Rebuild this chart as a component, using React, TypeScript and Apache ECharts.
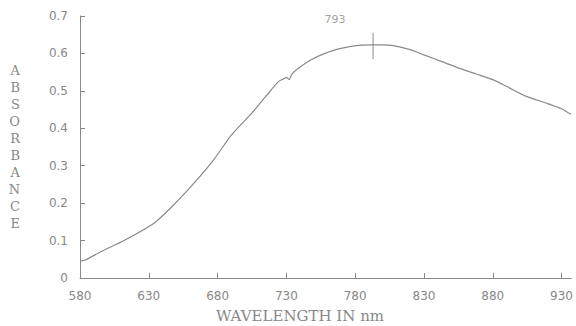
import React, { useEffect, useRef } from "react";
import * as echarts from "echarts";

const wavelengths = [580, 584, 595, 612, 634, 648, 663, 677, 690, 705, 715, 724, 728, 730, 732, 734, 739, 748, 758, 768, 777, 785, 793, 800, 808, 820, 830, 843, 856, 868, 880, 892, 904, 920, 930, 935, 937];
const absorbance = [0.045, 0.048, 0.07, 0.1, 0.147, 0.195, 0.254, 0.315, 0.382, 0.441, 0.485, 0.524, 0.532, 0.536, 0.53, 0.545, 0.561, 0.583, 0.6, 0.612, 0.619, 0.622, 0.623, 0.623, 0.621, 0.61, 0.596, 0.578, 0.56, 0.545, 0.53, 0.508, 0.486, 0.466, 0.452, 0.441, 0.438];
const xTicks = [580, 630, 680, 730, 780, 830, 880, 930];
const peakWavelength = 793;
const peakMarker = [0.585, 0.655];
const peakLabel = "793";
const yTitle = "ABSORBANCE";
const xTitle = "WAVELENGTH IN nm";

export default function App() {
  const ref = useRef<HTMLDivElement>(null);
  useEffect(() => {
    if (!ref.current) return;
    const chart = echarts.init(ref.current, null, { renderer: "svg" });
    const gray = "#8a8a8a";
    const textGray = "#888";
    chart.setOption({
      animation: false,
      backgroundColor: "#fff",
      grid: { left: 80, right: 0, top: 16, bottom: 48 },
      xAxis: {
        type: "value",
        min: 580,
        max: 937,
        axisLine: { lineStyle: { color: gray, width: 1 } },
        axisTick: { inside: true, length: 5, lineStyle: { color: gray }, customValues: xTicks },
        axisLabel: { customValues: xTicks, color: textGray, fontFamily: "DejaVu Sans", fontSize: 12, margin: 12 },
        splitLine: { show: false },
      },
      yAxis: {
        type: "value",
        min: 0,
        max: 0.7,
        interval: 0.1,
        name: yTitle.split("").join("\n"),
        nameLocation: "middle",
        nameRotate: 0,
        nameGap: 60,
        nameTextStyle: { color: textGray, fontFamily: "DejaVu Serif", fontSize: 13, lineHeight: 17 },
        axisLine: { show: true, lineStyle: { color: gray, width: 1 } },
        axisTick: { show: true, inside: true, length: 5, lineStyle: { color: gray } },
        axisLabel: {
          color: textGray,
          fontFamily: "DejaVu Sans",
          fontSize: 12,
          margin: 12,
          formatter: (v: number) => (v === 0 ? "0" : v.toFixed(1)),
        },
        splitLine: { show: false },
      },
      graphic: [
        {
          type: "text",
          x: 300,
          y: 308,
          style: { text: xTitle, fill: textGray, font: "15px 'DejaVu Serif'", align: "center" },
        },
      ],
      series: [
        {
          type: "line",
          data: wavelengths.map((w, i) => [w, absorbance[i]]),
          showSymbol: false,
          symbol: "none",
          smooth: 0.2,
          lineStyle: { color: gray, width: 1.2 },
        },
        {
          type: "line",
          data: [
            [peakWavelength, peakMarker[0]],
            [peakWavelength, peakMarker[1]],
          ],
          showSymbol: false,
          symbol: "none",
          lineStyle: { color: gray, width: 1 },
        },
        {
          type: "scatter",
          data: [[peakWavelength, peakMarker[1]]],
          symbolSize: 1,
          itemStyle: { color: "rgba(0,0,0,0)" },
          label: {
            show: true,
            formatter: peakLabel,
            position: "top",
            offset: [-38, -2],
            color: textGray,
            fontFamily: "DejaVu Sans",
            fontSize: 11,
          },
        },
      ],
    });
    return () => chart.dispose();
  }, []);
  return <div ref={ref} style={{ position: "absolute", left: 0, top: 0, width: 576, height: 326 }} />;
}
